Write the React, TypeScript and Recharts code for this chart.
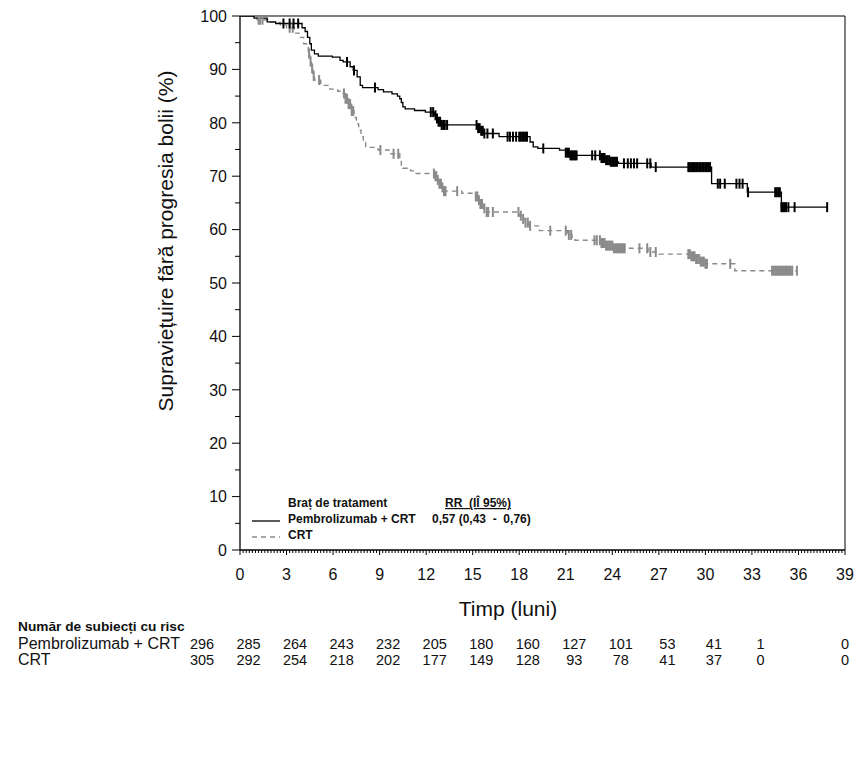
import React from 'react';
import { ComposedChart, Line, Scatter, XAxis, YAxis, ReferenceLine } from 'recharts';

// Axis ticks
const monthTicks = [0, 3, 6, 9, 12, 15, 18, 21, 24, 27, 30, 33, 36, 39];
const survivalTicks = [0, 5, 10, 15, 20, 25, 30, 35, 40, 45, 50, 55, 60, 65, 70, 75, 80, 85, 90, 95, 100];

// Numbers at risk at each month tick
const atRiskPembro = [296, 285, 264, 243, 232, 205, 180, 160, 127, 101, 53, 41, 1, 0];
const atRiskCrt = [305, 292, 254, 218, 202, 177, 149, 128, 93, 78, 41, 37, 0, 0];

// Pembrolizumab + CRT: Kaplan-Meier step values (months, % progression-free)
const pembroTimes = [0, 0.9, 1.75, 2.3, 4.0, 4.2, 4.35, 4.5, 4.6, 4.8, 5.05, 5.95, 6.45, 6.65, 7.1, 7.3, 7.55, 7.75, 7.9, 8.9, 9.25, 9.8, 10.15, 10.3, 10.4, 10.5, 10.65, 11.25, 11.95, 12.55, 12.65, 12.8, 13.0, 15.35, 15.55, 15.75, 16.7, 18.7, 18.9, 19.2, 20.6, 21.0, 21.3, 23.3, 23.6, 23.9, 24.4, 26.5, 30.4, 32.7, 34.9, 37.85];
const pembroSurv = [100, 99.6, 98.9, 98.6, 97.8, 97.1, 96.0, 94.8, 93.6, 92.9, 92.5, 92.3, 91.7, 91.4, 90.5, 89.8, 88.6, 87.0, 86.6, 86.2, 85.8, 85.4, 85.0, 84.5, 83.8, 83.0, 82.6, 82.3, 82.0, 81.4, 80.8, 80.2, 79.6, 79.0, 78.5, 78.0, 77.4, 76.4, 75.5, 75.2, 74.9, 74.4, 73.9, 73.4, 73.0, 72.7, 72.4, 71.7, 68.6, 67.0, 64.2, 64.2];
const pembroCensored = [2.8, 3.2, 3.45, 3.75, 6.9, 7.35, 8.7, 12.3, 12.45, 12.6, 12.7, 12.8, 12.9, 13.0, 13.1, 13.2, 13.35, 15.25, 15.35, 15.45, 15.55, 15.65, 15.75, 15.95, 16.3, 17.25, 17.4, 17.6, 17.8, 18.0, 18.1, 18.2, 18.3, 18.4, 18.5, 19.55, 21.0, 21.1, 21.2, 21.3, 21.4, 21.5, 21.6, 21.7, 22.7, 22.9, 23.2, 23.3, 23.4, 23.5, 23.6, 23.7, 23.8, 23.9, 24.0, 24.1, 24.2, 24.3, 24.75, 25.0, 25.2, 25.4, 25.6, 26.25, 26.45, 26.8, 28.9, 29.0, 29.1, 29.2, 29.3, 29.4, 29.5, 29.6, 29.7, 29.8, 29.9, 30.0, 30.1, 30.2, 30.3, 30.8, 30.95, 31.25, 32.0, 32.2, 32.4, 32.75, 34.5, 34.6, 34.7, 34.8, 34.9, 35.0, 35.1, 35.2, 35.35, 35.75, 37.85];

// CRT: Kaplan-Meier step values
const crtTimes = [0, 1.1, 1.8, 2.6, 3.0, 3.5, 3.8, 4.1, 4.4, 4.5, 4.6, 4.7, 4.8, 5.2, 5.8, 6.3, 6.6, 6.8, 7.0, 7.2, 7.35, 7.5, 7.65, 7.8, 7.95, 8.1, 8.9, 9.6, 10.3, 10.4, 10.5, 11.0, 11.3, 12.55, 12.7, 12.85, 13.0, 13.15, 14.3, 15.2, 15.35, 15.5, 15.7, 15.9, 18.0, 18.2, 18.4, 18.6, 19.3, 21.1, 21.4, 21.6, 23.3, 23.6, 24.1, 26.3, 27.0, 29.1, 29.4, 29.7, 30.0, 31.9, 35.9];
const crtSurv = [100, 99.3, 98.8, 98.3, 97.8, 96.8, 96.0, 94.8, 93.0, 91.5, 90.2, 88.8, 88.0, 87.0, 86.3, 85.9, 85.5, 84.5, 83.5, 82.2, 81.0, 79.8, 78.6, 77.4, 76.3, 75.4, 74.9, 74.2, 73.2, 72.1, 71.5, 71.0, 70.5, 70.0, 69.3, 68.6, 67.9, 67.2, 66.8, 66.2, 65.5, 64.8, 64.0, 63.3, 62.6, 62.0, 61.3, 60.7, 59.8, 59.0, 58.3, 58.0, 57.5, 57.0, 56.5, 55.8, 55.4, 55.0, 54.5, 54.0, 53.6, 52.3, 52.3];
const crtCensored = [1.2, 1.3, 1.45, 3.2, 3.4, 4.45, 4.55, 4.65, 4.75, 5.1, 6.7, 6.8, 6.9, 7.0, 7.1, 7.2, 7.3, 9.05, 9.9, 10.2, 12.5, 12.6, 12.65, 12.75, 12.85, 12.95, 13.05, 13.15, 13.25, 14.0, 15.2, 15.3, 15.4, 15.5, 15.6, 15.75, 15.9, 16.0, 16.3, 17.95, 18.1, 18.25, 18.4, 18.55, 18.7, 20.0, 21.0, 21.2, 21.35, 22.85, 23.0, 23.2, 23.3, 23.4, 23.5, 23.6, 23.7, 23.8, 23.9, 24.0, 24.1, 24.2, 24.3, 24.4, 24.5, 24.6, 24.7, 24.8, 25.75, 26.25, 26.45, 26.8, 28.9, 29.0, 29.1, 29.2, 29.3, 29.4, 29.5, 29.6, 29.7, 29.8, 29.9, 30.0, 30.1, 31.6, 34.3, 34.4, 34.5, 34.6, 34.7, 34.8, 34.9, 35.0, 35.1, 35.2, 35.3, 35.4, 35.5, 35.6, 35.9];

const FONT = '"Liberation Sans", Arial, sans-serif';
const NARROW = '"Liberation Sans Narrow", "Arial Narrow", "Liberation Sans", Arial, sans-serif';
const GREY = '#8a8a8a';

// Survival value carried by the step curve at a given time
const survivalAt = (times: number[], surv: number[], t: number) => {
  let s = surv[0];
  for (let i = 0; i < times.length; i++) {
    if (times[i] <= t + 1e-9) s = surv[i];
  }
  return s;
};

const pembroCurve = pembroTimes.map((t, i) => ({ t, s: pembroSurv[i] }));
const crtCurve = crtTimes.map((t, i) => ({ t, s: crtSurv[i] }));
const pembroMarks = pembroCensored.map((t) => ({ t, s: survivalAt(pembroTimes, pembroSurv, t) }));
const crtMarks = crtCensored.map((t) => ({ t, s: survivalAt(crtTimes, crtSurv, t) }));

// minor ticks every 0.2 month
const minorMonthTicks: number[] = [];
for (let k = 0; k <= 195; k++) minorMonthTicks.push(k / 5);

const isMajorMonth = (v: number) => Math.abs(v / 3 - Math.round(v / 3)) < 1e-6;

const MonthTick = (props: any) => {
  const { x, y, payload } = props;
  const v = payload.value as number;
  if (!isMajorMonth(v)) {
    return <line x1={x} x2={x} y1={y} y2={y + 3} stroke="#000" strokeWidth={1} />;
  }
  const idx = Math.round(v / 3);
  const rx = v === 39 ? x : x - 38;
  return (
    <g>
      <line x1={x} x2={x} y1={y} y2={y + 5} stroke="#000" strokeWidth={1} />
      <text x={x} y={y + 30} textAnchor="middle" fontSize={16} fontFamily={FONT} fill="#111">
        {v}
      </text>
      <text x={rx} y={y + 99} textAnchor="middle" fontSize={14.5} fontFamily={FONT} fill="#111">
        {atRiskPembro[idx]}
      </text>
      <text x={rx} y={y + 115} textAnchor="middle" fontSize={14.5} fontFamily={FONT} fill="#111">
        {atRiskCrt[idx]}
      </text>
    </g>
  );
};

const SurvivalTick = (props: any) => {
  const { x, y, payload } = props;
  const v = payload.value as number;
  const major = v % 10 === 0;
  return (
    <g>
      <line x1={x - (major ? 8 : 5)} x2={x} y1={y} y2={y} stroke="#000" strokeWidth={1} />
      {major && (
        <text x={x - 13} y={y} dy="0.36em" textAnchor="end" fontSize={16} fontFamily={FONT} fill="#111">
          {v}
        </text>
      )}
    </g>
  );
};

const CensorMark = (color: string) => (props: any) => {
  const { cx, cy } = props;
  if (cx == null || cy == null) return <g />;
  return <line x1={cx} x2={cx} y1={cy - 5} y2={cy + 5} stroke={color} strokeWidth={2} />;
};

export default function App() {
  return (
    <div style={{ position: 'absolute', left: 0, top: 0, width: 861, height: 772, background: '#fff' }}>
      <ComposedChart width={861} height={700} margin={{ top: 16, right: 16, bottom: 0, left: 0 }}>
        <XAxis
          dataKey="t"
          type="number"
          domain={[0, 39]}
          ticks={minorMonthTicks}
          interval={0}
          tickSize={0}
          tickMargin={0}
          tickLine={false}
          tick={<MonthTick />}
          axisLine={{ stroke: '#000', strokeWidth: 1.3 }}
          height={150}
          allowDataOverflow
        />
        <YAxis
          dataKey="s"
          type="number"
          domain={[0, 100]}
          ticks={survivalTicks}
          interval={0}
          tickSize={0}
          tickMargin={0}
          tickLine={false}
          tick={<SurvivalTick />}
          axisLine={{ stroke: '#000', strokeWidth: 1.3 }}
          width={240}
          allowDataOverflow
        />
        <ReferenceLine y={100} stroke="#000" strokeWidth={1} />
        <ReferenceLine x={39} stroke="#000" strokeWidth={1} />
        <Line
          data={crtCurve}
          dataKey="s"
          type="stepAfter"
          stroke={GREY}
          strokeWidth={1.4}
          strokeDasharray="5 4"
          dot={false}
          activeDot={false}
          isAnimationActive={false}
        />
        <Line
          data={pembroCurve}
          dataKey="s"
          type="stepAfter"
          stroke="#000"
          strokeWidth={1.3}
          dot={false}
          activeDot={false}
          isAnimationActive={false}
        />
        <Scatter data={crtMarks} dataKey="s" shape={CensorMark(GREY)} isAnimationActive={false} />
        <Scatter data={pembroMarks} dataKey="s" shape={CensorMark('#000')} isAnimationActive={false} />
      </ComposedChart>

      <svg
        width={861}
        height={772}
        style={{ position: 'absolute', left: 0, top: 0, pointerEvents: 'none' }}
      >
        <text
          transform="translate(165,241) rotate(-90)"
          textAnchor="middle"
          dominantBaseline="central"
          fontSize={21}
          fontFamily={FONT}
          fill="#111"
        >
          Supraviețuire fără progresia bolii (%)
        </text>
        <text x={508} y={616} textAnchor="middle" fontSize={21} fontFamily={FONT} fill="#111">
          Timp (luni)
        </text>

        {/* treatment arm legend */}
        <g fontFamily={NARROW} fontWeight="bold" fontSize={12} fill="#111">
          <text x={288} y={507}>Braț de tratament</text>
          <text x={445} y={507} textDecoration="underline" style={{ whiteSpace: 'pre' }}>
            RR  (IÎ 95%)
          </text>
          <text x={288} y={523}>Pembrolizumab + CRT</text>
          <text x={432} y={523} style={{ whiteSpace: 'pre' }}>
            0,57 (0,43  -  0,76)
          </text>
          <text x={288} y={539}>CRT</text>
        </g>
        <line x1={252} x2={280} y1={521} y2={521} stroke="#000" strokeWidth={1.3} />
        <line x1={252} x2={280} y1={537} y2={537} stroke={GREY} strokeWidth={1.4} strokeDasharray="5 4" />

        {/* at-risk table labels */}
        <text x={18} y={631} fontSize={13.7} fontWeight="bold" fontFamily={NARROW} fill="#111">
          Număr de subiecți cu risc
        </text>
        <text x={18} y={649} fontSize={16} fontFamily={FONT} fill="#111">
          Pembrolizumab + CRT
        </text>
        <text x={18} y={665} fontSize={16} fontFamily={FONT} fill="#111">
          CRT
        </text>
      </svg>
    </div>
  );
}
